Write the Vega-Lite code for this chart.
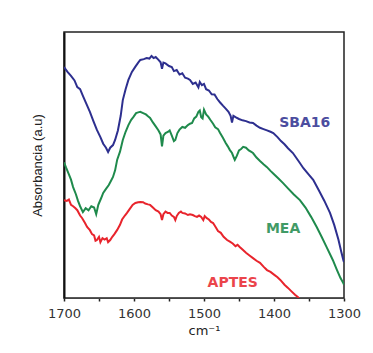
{
  "$schema": "https://vega.github.io/schema/vega-lite/v6.json",
  "autosize": "none",
  "width": 280,
  "height": 266,
  "padding": {"left": 64, "top": 32, "right": 29, "bottom": 55},
  "background": "white",
  "config": {"view": {"stroke": "#222", "strokeWidth": 1.5}},
  "datasets": {
    "spectra": [
      {"s":"SBA16","x":1700,"y":86.8},{"s":"SBA16","x":1695,"y":85},{"s":"SBA16","x":1690,"y":83.5},{"s":"SBA16","x":1685,"y":81.8},{"s":"SBA16","x":1681,"y":79.3},{"s":"SBA16","x":1677,"y":78.5},{"s":"SBA16","x":1673,"y":76},{"s":"SBA16","x":1668,"y":73},{"s":"SBA16","x":1663,"y":70},{"s":"SBA16","x":1658,"y":66.5},{"s":"SBA16","x":1653,"y":63.2},{"s":"SBA16","x":1648,"y":60.5},{"s":"SBA16","x":1644,"y":58},{"s":"SBA16","x":1640,"y":56.5},{"s":"SBA16","x":1637,"y":54.9},{"s":"SBA16","x":1634,"y":56.5},{"s":"SBA16","x":1630,"y":57.5},{"s":"SBA16","x":1627,"y":59.4},{"s":"SBA16","x":1623,"y":63},{"s":"SBA16","x":1619,"y":68.5},{"s":"SBA16","x":1616,"y":74.4},{"s":"SBA16","x":1612,"y":78.5},{"s":"SBA16","x":1608,"y":82},{"s":"SBA16","x":1603,"y":85},{"s":"SBA16","x":1598,"y":87},{"s":"SBA16","x":1594,"y":88.5},{"s":"SBA16","x":1591,"y":89.5},{"s":"SBA16","x":1586,"y":89.8},{"s":"SBA16","x":1582,"y":90.2},{"s":"SBA16","x":1578,"y":90},{"s":"SBA16","x":1575,"y":91},{"s":"SBA16","x":1572,"y":90.2},{"s":"SBA16","x":1569,"y":90.6},{"s":"SBA16","x":1565,"y":89.5},{"s":"SBA16","x":1562,"y":88.6},{"s":"SBA16","x":1560,"y":86.2},{"s":"SBA16","x":1558,"y":88.5},{"s":"SBA16","x":1555,"y":88.2},{"s":"SBA16","x":1550,"y":87.2},{"s":"SBA16","x":1546,"y":86.8},{"s":"SBA16","x":1543,"y":85.3},{"s":"SBA16","x":1539,"y":85.7},{"s":"SBA16","x":1535,"y":84},{"s":"SBA16","x":1531,"y":84.5},{"s":"SBA16","x":1527,"y":82.8},{"s":"SBA16","x":1523,"y":82.5},{"s":"SBA16","x":1520,"y":82},{"s":"SBA16","x":1516,"y":80.5},{"s":"SBA16","x":1512,"y":81},{"s":"SBA16","x":1508,"y":79.2},{"s":"SBA16","x":1506,"y":81.2},{"s":"SBA16","x":1503,"y":80},{"s":"SBA16","x":1500,"y":80.5},{"s":"SBA16","x":1497,"y":78.5},{"s":"SBA16","x":1493,"y":78},{"s":"SBA16","x":1489,"y":76.6},{"s":"SBA16","x":1485,"y":76.5},{"s":"SBA16","x":1481,"y":74.8},{"s":"SBA16","x":1477,"y":73.5},{"s":"SBA16","x":1473,"y":72.3},{"s":"SBA16","x":1469,"y":71.2},{"s":"SBA16","x":1465,"y":70},{"s":"SBA16","x":1462,"y":68.5},{"s":"SBA16","x":1460,"y":66},{"s":"SBA16","x":1458,"y":68.5},{"s":"SBA16","x":1455,"y":68},{"s":"SBA16","x":1450,"y":67.3},{"s":"SBA16","x":1445,"y":66.8},{"s":"SBA16","x":1440,"y":66.5},{"s":"SBA16","x":1435,"y":66},{"s":"SBA16","x":1430,"y":65.8},{"s":"SBA16","x":1425,"y":64.8},{"s":"SBA16","x":1420,"y":64},{"s":"SBA16","x":1415,"y":63.5},{"s":"SBA16","x":1410,"y":63},{"s":"SBA16","x":1405,"y":62.5},{"s":"SBA16","x":1401,"y":62},{"s":"SBA16","x":1395,"y":60.5},{"s":"SBA16","x":1390,"y":59},{"s":"SBA16","x":1385,"y":57.8},{"s":"SBA16","x":1380,"y":56.3},{"s":"SBA16","x":1373,"y":54.5},{"s":"SBA16","x":1365,"y":51.5},{"s":"SBA16","x":1358,"y":48.8},{"s":"SBA16","x":1350,"y":46.3},{"s":"SBA16","x":1344,"y":44.4},{"s":"SBA16","x":1336,"y":40.5},{"s":"SBA16","x":1328,"y":36.5},{"s":"SBA16","x":1320,"y":32},{"s":"SBA16","x":1314,"y":27.5},{"s":"SBA16","x":1308,"y":22},{"s":"SBA16","x":1304,"y":17.5},{"s":"SBA16","x":1301,"y":14.3},{"s":"SBA16","x":1300,"y":13.5},
      {"s":"MEA","x":1700,"y":51},{"s":"MEA","x":1697,"y":49},{"s":"MEA","x":1693,"y":46.5},{"s":"MEA","x":1690,"y":44.5},{"s":"MEA","x":1687,"y":41.7},{"s":"MEA","x":1683,"y":39},{"s":"MEA","x":1680,"y":36.5},{"s":"MEA","x":1677,"y":34.5},{"s":"MEA","x":1673,"y":32.3},{"s":"MEA","x":1669,"y":33.8},{"s":"MEA","x":1665,"y":33},{"s":"MEA","x":1661,"y":34.5},{"s":"MEA","x":1657,"y":34},{"s":"MEA","x":1654,"y":31.5},{"s":"MEA","x":1651,"y":35},{"s":"MEA","x":1647,"y":37.5},{"s":"MEA","x":1644,"y":39.5},{"s":"MEA","x":1640,"y":41},{"s":"MEA","x":1636,"y":42.5},{"s":"MEA","x":1633,"y":44},{"s":"MEA","x":1630,"y":45.5},{"s":"MEA","x":1627,"y":48},{"s":"MEA","x":1624,"y":52},{"s":"MEA","x":1620,"y":55},{"s":"MEA","x":1616,"y":59.4},{"s":"MEA","x":1612,"y":62.5},{"s":"MEA","x":1608,"y":65},{"s":"MEA","x":1604,"y":67},{"s":"MEA","x":1601,"y":68},{"s":"MEA","x":1597,"y":69.5},{"s":"MEA","x":1594,"y":69.8},{"s":"MEA","x":1591,"y":70},{"s":"MEA","x":1587,"y":69.5},{"s":"MEA","x":1583,"y":69},{"s":"MEA","x":1580,"y":68.3},{"s":"MEA","x":1577,"y":67.7},{"s":"MEA","x":1573,"y":66},{"s":"MEA","x":1569,"y":64.5},{"s":"MEA","x":1565,"y":63},{"s":"MEA","x":1562,"y":61.5},{"s":"MEA","x":1560,"y":57},{"s":"MEA","x":1558,"y":61},{"s":"MEA","x":1555,"y":62},{"s":"MEA","x":1551,"y":62.5},{"s":"MEA","x":1549,"y":63},{"s":"MEA","x":1546,"y":61},{"s":"MEA","x":1543,"y":59},{"s":"MEA","x":1541,"y":59.4},{"s":"MEA","x":1538,"y":62},{"s":"MEA","x":1535,"y":63.3},{"s":"MEA","x":1531,"y":64.3},{"s":"MEA","x":1527,"y":64},{"s":"MEA","x":1523,"y":65},{"s":"MEA","x":1520,"y":65.5},{"s":"MEA","x":1517,"y":65.8},{"s":"MEA","x":1514,"y":67.5},{"s":"MEA","x":1511,"y":68.2},{"s":"MEA","x":1508,"y":70},{"s":"MEA","x":1506,"y":70.5},{"s":"MEA","x":1504,"y":68},{"s":"MEA","x":1502,"y":67.5},{"s":"MEA","x":1500,"y":70.8},{"s":"MEA","x":1497,"y":69},{"s":"MEA","x":1494,"y":68.2},{"s":"MEA","x":1491,"y":67},{"s":"MEA","x":1487,"y":65.5},{"s":"MEA","x":1484,"y":64.2},{"s":"MEA","x":1480,"y":63.5},{"s":"MEA","x":1477,"y":62},{"s":"MEA","x":1473,"y":60.2},{"s":"MEA","x":1469,"y":58.3},{"s":"MEA","x":1466,"y":57},{"s":"MEA","x":1463,"y":55.6},{"s":"MEA","x":1460,"y":54.5},{"s":"MEA","x":1457,"y":52.5},{"s":"MEA","x":1456,"y":51.9},{"s":"MEA","x":1453,"y":53.5},{"s":"MEA","x":1450,"y":55.5},{"s":"MEA","x":1447,"y":56},{"s":"MEA","x":1444,"y":56.8},{"s":"MEA","x":1440,"y":56.5},{"s":"MEA","x":1436,"y":55.5},{"s":"MEA","x":1433,"y":55},{"s":"MEA","x":1430,"y":54.5},{"s":"MEA","x":1425,"y":52.8},{"s":"MEA","x":1420,"y":51.5},{"s":"MEA","x":1415,"y":50.3},{"s":"MEA","x":1410,"y":49.2},{"s":"MEA","x":1405,"y":47.8},{"s":"MEA","x":1400,"y":46.5},{"s":"MEA","x":1394,"y":45},{"s":"MEA","x":1387,"y":43.2},{"s":"MEA","x":1380,"y":41.2},{"s":"MEA","x":1372,"y":39},{"s":"MEA","x":1363,"y":36.8},{"s":"MEA","x":1355,"y":34},{"s":"MEA","x":1347,"y":30.5},{"s":"MEA","x":1339,"y":26.7},{"s":"MEA","x":1332,"y":23},{"s":"MEA","x":1325,"y":19.2},{"s":"MEA","x":1316,"y":14.3},{"s":"MEA","x":1310,"y":10.5},{"s":"MEA","x":1305,"y":7.5},{"s":"MEA","x":1301,"y":5.6},{"s":"MEA","x":1300,"y":5},
      {"s":"APTES","x":1700,"y":36.8},{"s":"APTES","x":1696,"y":36.5},{"s":"APTES","x":1693,"y":37},{"s":"APTES","x":1690,"y":35},{"s":"APTES","x":1687,"y":34.5},{"s":"APTES","x":1684,"y":33.8},{"s":"APTES","x":1681,"y":33},{"s":"APTES","x":1677,"y":31},{"s":"APTES","x":1674,"y":30},{"s":"APTES","x":1670,"y":28.2},{"s":"APTES","x":1667,"y":26.7},{"s":"APTES","x":1663,"y":25.5},{"s":"APTES","x":1660,"y":24},{"s":"APTES","x":1657,"y":23.5},{"s":"APTES","x":1655,"y":21.5},{"s":"APTES","x":1653,"y":21.8},{"s":"APTES","x":1650,"y":23},{"s":"APTES","x":1648,"y":21},{"s":"APTES","x":1645,"y":22.5},{"s":"APTES","x":1642,"y":22},{"s":"APTES","x":1639,"y":22.5},{"s":"APTES","x":1637,"y":21},{"s":"APTES","x":1634,"y":21.8},{"s":"APTES","x":1631,"y":23},{"s":"APTES","x":1628,"y":24},{"s":"APTES","x":1624,"y":25.6},{"s":"APTES","x":1620,"y":27.5},{"s":"APTES","x":1617,"y":29.5},{"s":"APTES","x":1613,"y":31},{"s":"APTES","x":1610,"y":32},{"s":"APTES","x":1606,"y":33.5},{"s":"APTES","x":1602,"y":35},{"s":"APTES","x":1598,"y":35.7},{"s":"APTES","x":1594,"y":36},{"s":"APTES","x":1591,"y":36.1},{"s":"APTES","x":1587,"y":36},{"s":"APTES","x":1584,"y":35.5},{"s":"APTES","x":1580,"y":35.2},{"s":"APTES","x":1577,"y":35},{"s":"APTES","x":1573,"y":34},{"s":"APTES","x":1569,"y":33},{"s":"APTES","x":1565,"y":32.5},{"s":"APTES","x":1562,"y":31.5},{"s":"APTES","x":1560,"y":29.3},{"s":"APTES","x":1558,"y":31.5},{"s":"APTES","x":1555,"y":32.5},{"s":"APTES","x":1552,"y":32},{"s":"APTES","x":1549,"y":32},{"s":"APTES","x":1546,"y":31},{"s":"APTES","x":1543,"y":30.5},{"s":"APTES","x":1541,"y":29.3},{"s":"APTES","x":1539,"y":30.8},{"s":"APTES","x":1536,"y":32},{"s":"APTES","x":1533,"y":32.5},{"s":"APTES","x":1531,"y":32},{"s":"APTES","x":1527,"y":31.8},{"s":"APTES","x":1523,"y":31.2},{"s":"APTES","x":1520,"y":31.5},{"s":"APTES","x":1516,"y":31.2},{"s":"APTES","x":1513,"y":30.8},{"s":"APTES","x":1510,"y":30.5},{"s":"APTES","x":1507,"y":31},{"s":"APTES","x":1504,"y":30.5},{"s":"APTES","x":1501,"y":29.3},{"s":"APTES","x":1499,"y":30.8},{"s":"APTES","x":1496,"y":30},{"s":"APTES","x":1493,"y":29.5},{"s":"APTES","x":1490,"y":28.6},{"s":"APTES","x":1487,"y":28.2},{"s":"APTES","x":1483,"y":26.5},{"s":"APTES","x":1480,"y":25.2},{"s":"APTES","x":1476,"y":24.5},{"s":"APTES","x":1472,"y":23},{"s":"APTES","x":1467,"y":21.8},{"s":"APTES","x":1463,"y":21.2},{"s":"APTES","x":1459,"y":20.5},{"s":"APTES","x":1455,"y":19.5},{"s":"APTES","x":1452,"y":20},{"s":"APTES","x":1449,"y":19.2},{"s":"APTES","x":1445,"y":18.2},{"s":"APTES","x":1440,"y":17},{"s":"APTES","x":1435,"y":16},{"s":"APTES","x":1430,"y":15},{"s":"APTES","x":1425,"y":14},{"s":"APTES","x":1420,"y":13.2},{"s":"APTES","x":1415,"y":11.8},{"s":"APTES","x":1410,"y":10.5},{"s":"APTES","x":1405,"y":9.8},{"s":"APTES","x":1400,"y":8.8},{"s":"APTES","x":1395,"y":7.8},{"s":"APTES","x":1391,"y":6.8},{"s":"APTES","x":1385,"y":5},{"s":"APTES","x":1380,"y":3.8},{"s":"APTES","x":1375,"y":2.5},{"s":"APTES","x":1370,"y":1.2},{"s":"APTES","x":1366,"y":0.4},{"s":"APTES","x":1362,"y":-1}
    ],
    "labels": [
      {"s":"SBA16","x":1356,"y":65.8,"t":"SBA16"},
      {"s":"MEA","x":1387,"y":26,"t":"MEA"},
      {"s":"APTES","x":1459,"y":5.6,"t":"APTES"}
    ]
  },
  "encoding": {
    "x": {
      "field": "x", "type": "quantitative",
      "scale": {"domain": [1300, 1700], "reverse": true, "nice": false, "zero": false},
      "axis": {
        "values": [1700, 1650, 1600, 1550, 1500, 1450, 1400, 1350, 1300],
        "labelExpr": "datum.value % 100 == 0 ? datum.label : ''",
        "format": "d",
        "grid": false,
        "labelFlush": false,
        "labelOverlap": false,
        "domainColor": "#444", "domainWidth": 1,
        "tickColor": "#222", "tickSize": 3, "tickWidth": 1.5,
        "labelPadding": 6,
        "labelFont": "DejaVu Sans", "labelFontSize": 13, "labelColor": "#333",
        "title": "cm⁻¹", "titleFont": "DejaVu Sans", "titleFontSize": 13,
        "titleFontWeight": "normal", "titleColor": "#222", "titlePadding": 4
      }
    },
    "y": {
      "field": "y", "type": "quantitative",
      "scale": {"domain": [0, 100], "nice": false, "zero": false},
      "axis": {
        "labels": false, "ticks": false, "grid": false,
        "domainColor": "#111", "domainWidth": 2,
        "title": "Absorbancia (a.u)", "titleFont": "Liberation Sans",
        "titleFontSize": 13, "titleFontWeight": "normal", "titleColor": "#222",
        "titlePadding": 20
      }
    },
    "color": {
      "field": "s", "type": "nominal",
      "scale": {"domain": ["SBA16", "MEA", "APTES"], "range": ["#2d2f8f", "#1f8a4c", "#e8242c"]},
      "legend": null
    }
  },
  "layer": [
    {
      "data": {"name": "spectra"},
      "mark": {"type": "line", "strokeWidth": 2, "clip": true},
      "encoding": {"order": {"field": "x", "sort": "descending"}}
    },
    {
      "data": {"name": "labels"},
      "mark": {"type": "text", "font": "DejaVu Sans", "fontSize": 14, "fontWeight": "bold", "align": "center", "baseline": "middle", "opacity": 0.85},
      "encoding": {"text": {"field": "t"}}
    }
  ]
}
